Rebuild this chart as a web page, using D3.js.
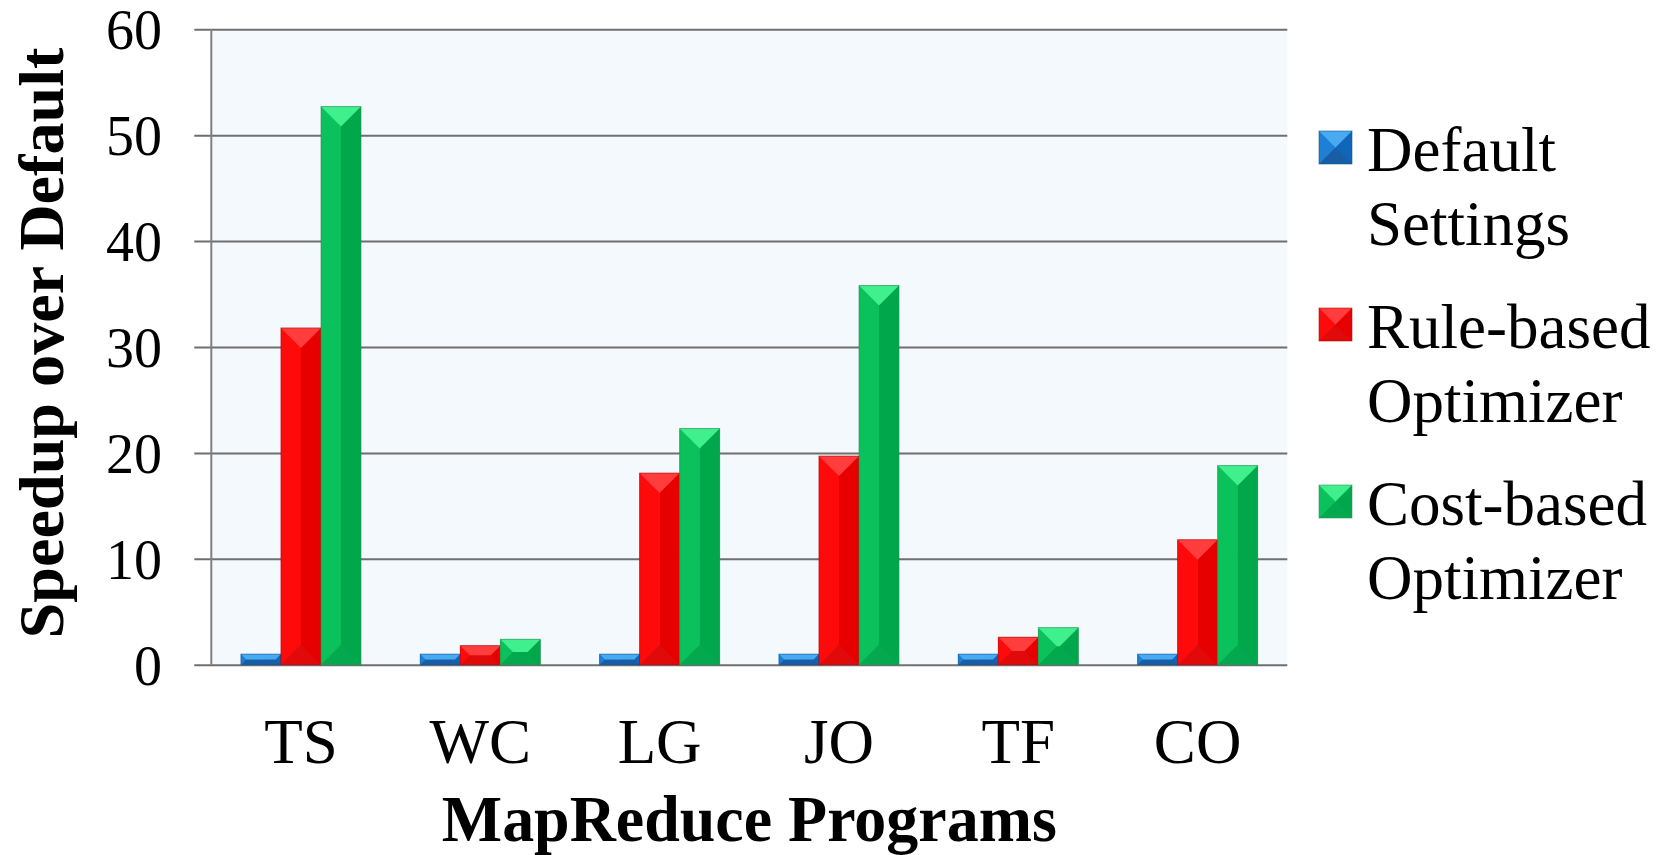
<!DOCTYPE html>
<html>
<head>
<meta charset="utf-8">
<script src="https://cdn.jsdelivr.net/npm/d3@7"></script>
<style>
  html, body { margin: 0; padding: 0; background: #ffffff; }
  svg { display: block; }
  text { font-family: "Liberation Serif", "Times New Roman", serif; fill: #000; }
</style>
</head>
<body>
<svg id="chart" width="1669" height="855"></svg>
<script>
// MapReduce program speedups, grouped by program
const categories = ["TS", "WC", "LG", "JO", "TF", "CO"];
const defaultSettings = [1, 1, 1, 1, 1, 1];
const ruleBased = [31.8, 1.8, 18.1, 19.7, 2.6, 11.8];
const costBased = [52.7, 2.4, 22.3, 35.8, 3.5, 18.8];
const yTicks = [0, 10, 20, 30, 40, 50, 60];
const seriesKeys = ["default", "rule", "cost"];
const seriesLabels = [["Default", "Settings"], ["Rule-based", "Optimizer"], ["Cost-based", "Optimizer"]];
const seriesValues = [defaultSettings, ruleBased, costBased];

// facet shades for the bevelled bars: top, left, right, bottom
const palettes = {
  default: { top: "#48aaf0", left: "#1e7fd5", right: "#1066b8", bottom: "#175ea4", edge: "#0d4f8f" },
  rule:    { top: "#ff3d3d", left: "#ff0a0a", right: "#e70000", bottom: "#e00a0a", edge: "#b30000" },
  cost:    { top: "#3ff08c", left: "#0ac15b", right: "#00a74b", bottom: "#04a94f", edge: "#2f8a55" }
};

const svg = d3.select("#chart");
const plot = { left: 211.3, right: 1287.3, top: 29.3, bottom: 664.7 };

const y = d3.scaleLinear().domain([0, 60]).range([plot.bottom, plot.top]);
const x0 = d3.scaleBand().domain(categories).range([plot.left, plot.right]).paddingInner(0).paddingOuter(0);
const x1 = d3.scaleBand().domain(seriesKeys).range([0, x0.bandwidth()]).paddingInner(0).paddingOuter(0.74);

// plot area fill
svg.append("rect")
  .attr("x", plot.left).attr("y", plot.top)
  .attr("width", plot.right - plot.left).attr("height", plot.bottom - plot.top)
  .attr("fill", "#f4f9fd");

// horizontal gridlines with outward ticks
const yAxis = d3.axisLeft(y).tickValues(yTicks)
  .tickSize(-(plot.right - plot.left)).tickSizeOuter(0).tickPadding(0).tickFormat("");
const gy = svg.append("g").attr("transform", `translate(${plot.left},0)`).call(yAxis);
gy.select(".domain").remove();
gy.selectAll(".tick line").attr("x1", -17).attr("stroke", "#6f6f6f").attr("stroke-width", 2);

// y tick labels, baseline placed at the bottom of the digits
svg.append("g").selectAll("text").data(yTicks).join("text")
  .attr("x", 162).attr("y", d => y(d) + 19.8)
  .attr("text-anchor", "end")
  .attr("font-size", 56)
  .text(d => d);

// vertical axis line
svg.append("line")
  .attr("x1", plot.left).attr("x2", plot.left)
  .attr("y1", plot.top).attr("y2", plot.bottom)
  .attr("stroke", "#808080").attr("stroke-width", 2);

// draws a rectangle split into four bevel facets meeting toward its centre
function bevelRect(g, bx, by, w, h, pal) {
  const d = Math.min(w / 2, h / 2);
  const x2 = bx + w, y2 = by + h;
  const facets = [
    [pal.left,   [[bx, by], [bx + d, by + d], [bx + d, y2 - d], [bx, y2]]],
    [pal.right,  [[x2, by], [x2 - d, by + d], [x2 - d, y2 - d], [x2, y2]]],
    [pal.bottom, [[bx, y2], [bx + d, y2 - d], [x2 - d, y2 - d], [x2, y2]]],
    [pal.top,    [[bx, by], [x2, by], [x2 - d, by + d], [bx + d, by + d]]]
  ];
  // the left/right body halves when the bar is tall
  g.append("rect").attr("x", bx).attr("y", by).attr("width", w / 2).attr("height", h).attr("fill", pal.left);
  g.append("rect").attr("x", bx + w / 2).attr("y", by).attr("width", w / 2).attr("height", h).attr("fill", pal.right);
  facets.forEach(([c, pts]) => {
    g.append("polygon").attr("points", pts.map(p => p.join(",")).join(" ")).attr("fill", c);
  });
  g.append("rect").attr("x", bx).attr("y", by).attr("width", w).attr("height", h)
    .attr("fill", "none").attr("stroke", pal.edge).attr("stroke-opacity", 0.55).attr("stroke-width", 1);
}

// bars
const barsG = svg.append("g");
categories.forEach((cat, i) => {
  seriesKeys.forEach((key, s) => {
    const v = seriesValues[s][i];
    const bx = x0(cat) + x1(key);
    const by = y(v);
    bevelRect(barsG.append("g"), bx, by, x1.bandwidth(), y(0) - by, palettes[key]);
  });
});

// category labels
svg.append("g").selectAll("text").data(categories).join("text")
  .attr("x", d => x0(d) + x1("rule") + x1.bandwidth() / 2)
  .attr("y", 762.7)
  .attr("text-anchor", "middle")
  .attr("font-size", 63)
  .text(d => d);

// axis titles
svg.append("text")
  .attr("x", (plot.left + plot.right) / 2).attr("y", 841)
  .attr("text-anchor", "middle")
  .attr("font-size", 66).attr("font-weight", "bold")
  .attr("textLength", 615).attr("lengthAdjust", "spacingAndGlyphs")
  .text("MapReduce Programs");

svg.append("text")
  .attr("transform", `translate(63,${(plot.top + plot.bottom) / 2 - 4}) rotate(-90)`)
  .attr("text-anchor", "middle")
  .attr("font-size", 64).attr("font-weight", "bold")
  .attr("textLength", 591).attr("lengthAdjust", "spacingAndGlyphs")
  .text("Speedup over Default");

// legend
const legend = svg.append("g");
seriesKeys.forEach((key, s) => {
  const top = 131 + s * 177;
  bevelRect(legend.append("g"), 1319, top, 33, 33, palettes[key]);
  seriesLabels[s].forEach((line, j) => {
    legend.append("text")
      .attr("x", 1367).attr("y", top + 39.7 + j * 74)
      .attr("font-size", 63)
      .text(line);
  });
});
</script>
</body>
</html>
